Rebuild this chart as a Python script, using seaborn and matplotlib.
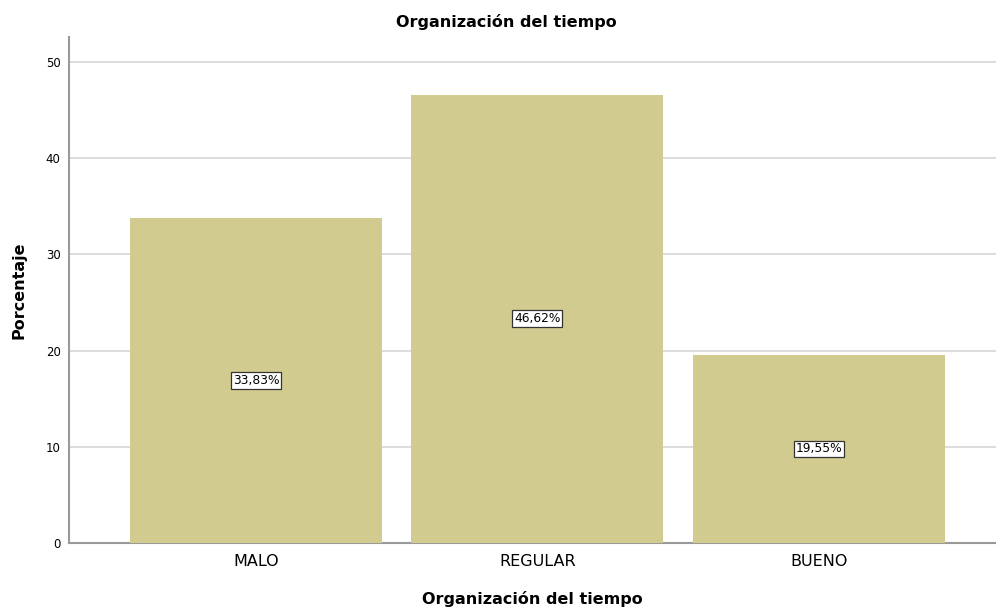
import matplotlib
matplotlib.use("Agg")
import matplotlib.pyplot as plt
import seaborn as sns
import pandas as pd

# Data
categorias = ['MALO', 'REGULAR', 'BUENO']
porcentajes = [33.83, 46.62, 19.55]
etiquetas = ['33,83%', '46,62%', '19,55%']

df = pd.DataFrame({'categoria': categorias, 'porcentaje': porcentajes})

sns.set_style('white')
plt.rcParams['font.family'] = ['DejaVu Sans']
plt.rcParams['text.color'] = 'black'
plt.rcParams['axes.labelcolor'] = 'black'
plt.rcParams['xtick.color'] = 'black'
plt.rcParams['ytick.color'] = 'black'

fig = plt.figure(figsize=(9.96, 6.14), dpi=100)
ax = fig.add_axes([0.0693, 0.1156, 0.9307, 0.8241])

sns.barplot(data=df, x='categoria', y='porcentaje', color='#D1CB8F',
            saturation=1, width=0.895, ax=ax, zorder=3, linewidth=0)

# Value labels in the middle of each bar
for i, (v, txt) in enumerate(zip(porcentajes, etiquetas)):
    ax.text(i, v / 2, txt, ha='center', va='center', fontsize=8.8, zorder=4,
            bbox=dict(boxstyle='square,pad=0.15', facecolor='white',
                      edgecolor='#333333', linewidth=0.9))

ax.set_ylim(0, 52.6)
ax.set_xlim(-0.664, 2.629)
ax.set_yticks([0, 10, 20, 30, 40, 50])
ax.yaxis.grid(True, color='#D6D6D6', linewidth=1.2, zorder=0)
ax.set_axisbelow(True)

for s in ['top', 'right']:
    ax.spines[s].set_visible(False)
for s in ['left', 'bottom']:
    ax.spines[s].set_color('#999999')
    ax.spines[s].set_linewidth(1.5)

ax.tick_params(axis='y', labelsize=8.5, length=0, pad=6)
ax.tick_params(axis='x', labelsize=11.5, length=0, pad=8)

fig.suptitle('Organización del tiempo', x=0.508, y=0.978, fontsize=11.5,
             fontweight='bold', va='top')
ax.set_xlabel('Organización del tiempo', fontsize=11.5, fontweight='bold', labelpad=16)
ax.set_ylabel('Porcentaje', fontsize=11.5, fontweight='bold', labelpad=14)

plt.savefig('out.png', dpi=100)
